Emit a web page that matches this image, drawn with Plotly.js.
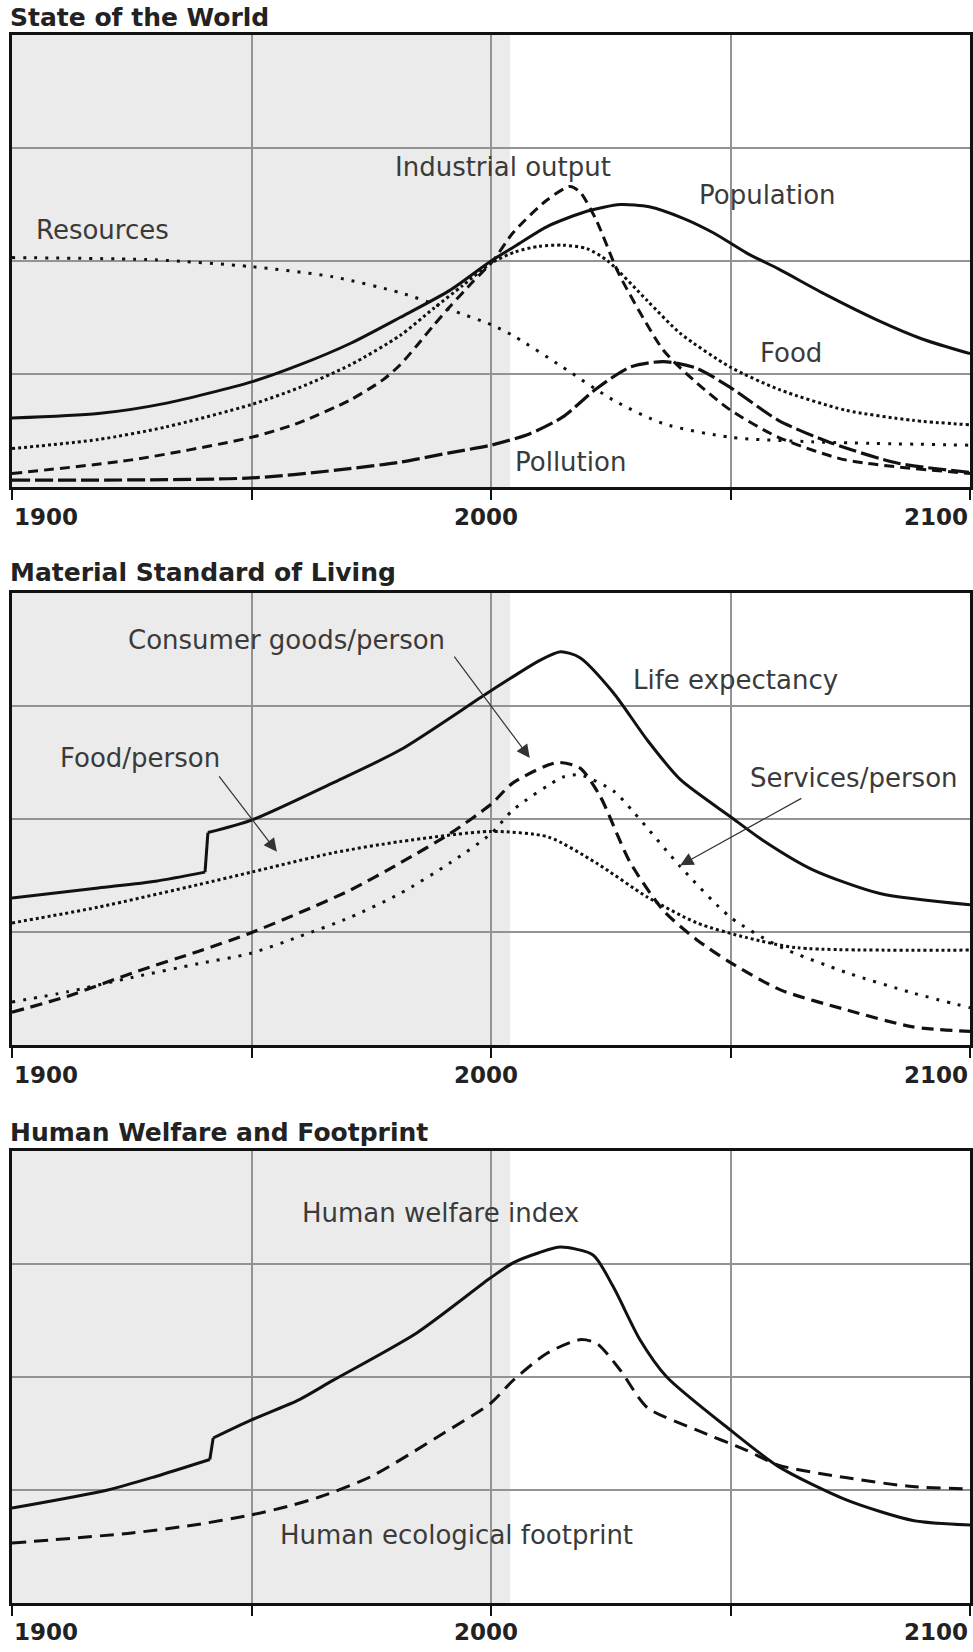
<!DOCTYPE html>
<html>
<head>
<meta charset="utf-8">
<script src="https://cdn.plot.ly/plotly-3.0.1.min.js"></script>
<style>html,body{margin:0;padding:0;background:#fff;}#chart{width:973px;height:1652px;}</style>
</head>
<body>
<div id="chart"></div>
<script>
// ---------- Panel 1: State of the World ----------
var popYears = [1900,1918,1932,1950,1960,1970.6,1981,1991.4,2000,2005,2012,2020,2027,2033,2040,2046.4,2053.4,2060,2070,2081,2090,2100];
var popVals  = [0.61,0.65,0.74,0.93,1.08,1.27,1.50,1.74,2.00,2.13,2.31,2.44,2.50,2.48,2.38,2.25,2.07,1.93,1.70,1.47,1.31,1.18];

var indYears = [1900,1925,1950,1960,1970.6,1977.5,1981,1984.5,1988,1991.5,1996.3,2000.4,2004.6,2011.7,2016.5,2018.6,2022,2025.5,2027,2036,2043,2050,2060,2074,2100];
var indVals  = [0.12,0.24,0.44,0.57,0.77,0.95,1.08,1.25,1.43,1.60,1.82,2.00,2.25,2.54,2.66,2.61,2.36,2.00,1.86,1.21,0.92,0.68,0.44,0.24,0.12];

var foodYears = [1900,1918,1932,1950,1960,1970.6,1981,1988,1994,2000,2005,2010,2015,2020,2024.4,2032.6,2039.5,2050,2060.3,2074,2088,2100];
var foodVals  = [0.34,0.42,0.53,0.73,0.88,1.08,1.34,1.58,1.78,1.98,2.08,2.13,2.14,2.11,2.00,1.65,1.36,1.06,0.86,0.68,0.59,0.55];

var resYears = [1900,1930,1950,1967,1981,1991.4,2000.4,2005,2015,2025.5,2036,2050,2067,2100];
var resVals  = [2.03,2.01,1.95,1.86,1.72,1.57,1.43,1.33,1.06,0.77,0.56,0.44,0.40,0.37];

var polYears = [1900,1950,1970,1981,1991,2000,2008,2015,2022,2029,2036,2043,2050,2060,2071,2085,2100];
var polVals  = [0.06,0.08,0.16,0.22,0.30,0.37,0.47,0.62,0.87,1.06,1.11,1.05,0.88,0.59,0.39,0.21,0.13];

// ---------- Panel 2: Material Standard of Living ----------
var lifeYears = [1900,1918,1930,1940.3,1940.9,1950,1967,1981,1998,2004.6,2010,2014.5,2018.5,2025.5,2032.6,2039.5,2050,2056.8,2067.2,2081.2,2100];
var lifeVals  = [1.30,1.39,1.45,1.53,1.88,1.99,2.32,2.61,3.08,3.26,3.40,3.48,3.43,3.12,2.70,2.35,2.02,1.81,1.55,1.34,1.24];
var lifeStep = 3; // index where the jump starts

var foodPYears = [1900,1918,1939,1950,1967,1981,2000,2012,2022,2032.6,2043,2053.4,2064,2100];
var foodPVals  = [1.08,1.22,1.42,1.53,1.70,1.80,1.89,1.84,1.61,1.31,1.08,0.95,0.86,0.84];

var goodsYears = [1900,1911.5,1925.3,1939,1949.7,1960,1970.6,1981,1991.4,2000,2004.6,2013.8,2018.6,2022.8,2029,2036,2043,2050,2060.3,2074.3,2088.1,2100];
var goodsVals  = [0.29,0.43,0.64,0.83,0.99,1.17,1.37,1.61,1.87,2.13,2.32,2.50,2.45,2.20,1.62,1.19,0.93,0.73,0.49,0.31,0.16,0.12];

var servYears = [1900,1911.5,1925.3,1939,1949.7,1960,1970.6,1981,1991.4,2000,2004.6,2015,2018.6,2025.5,2030,2039.5,2050,2060.3,2074.3,2088.1,2100];
var servVals  = [0.38,0.47,0.60,0.72,0.81,0.96,1.13,1.34,1.61,1.87,2.08,2.37,2.39,2.25,2.05,1.58,1.13,0.87,0.64,0.46,0.33];

// ---------- Panel 3: Human Welfare and Footprint ----------
var welfYears = [1900,1920,1930,1941.3,1942,1950,1960,1967,1984.5,2000,2004.6,2010,2014.5,2021.3,2025.5,2031.1,2036.7,2050,2060.3,2074.3,2088.1,2100];
var welfVals  = [0.84,1.00,1.12,1.27,1.46,1.62,1.80,1.97,2.39,2.88,3.01,3.10,3.15,3.08,2.80,2.33,2.00,1.53,1.20,0.91,0.73,0.69];
var welfStep = 3;

var footYears = [1900,1925,1938,1950,1958,1965,1975,1990,2000,2004.6,2011.7,2018.5,2022,2027,2032.6,2043,2053.4,2060,2074,2088,2100];
var footVals  = [0.53,0.62,0.69,0.78,0.86,0.95,1.12,1.50,1.77,1.97,2.21,2.33,2.30,2.06,1.73,1.53,1.35,1.22,1.11,1.03,1.01];

// ---------- Text ----------
var panelTitles = ["State of the World", "Material Standard of Living", "Human Welfare and Footprint"];
var tickLabels = ["1900", "2000", "2100"];
var tickYears = [1900, 2000, 2100];

var BLACK = '#111';
function tr(x, y, xa, ya, dash, w, shape) {
  return {x: x, y: y, xaxis: xa, yaxis: ya, type: 'scatter', mode: 'lines', hoverinfo: 'skip',
    line: {color: BLACK, width: w || 3, dash: dash || 'solid', shape: shape || 'spline', smoothing: 0.7}};
}
function stepped(xs, ys, k, xa, ya) {
  return [
    tr(xs.slice(0, k + 1), ys.slice(0, k + 1), xa, ya, 'solid', 3, 'spline'),
    tr(xs.slice(k, k + 2), ys.slice(k, k + 2), xa, ya, 'solid', 3, 'linear'),
    tr(xs.slice(k + 1), ys.slice(k + 1), xa, ya, 'solid', 3, 'spline')
  ];
}

var data = [
  tr(resYears, resVals, 'x', 'y', '3px,8px', 3),
  tr(foodYears, foodVals, 'x', 'y', '3px,3px', 3),
  tr(polYears, polVals, 'x', 'y', '18px,5px', 3.2),
  tr(indYears, indVals, 'x', 'y', '10px,6px', 3),
  tr(popYears, popVals, 'x', 'y', 'solid', 3),

  tr(foodPYears, foodPVals, 'x2', 'y2', '3px,3px', 3),
  tr(servYears, servVals, 'x2', 'y2', '3px,8px', 3),
  tr(goodsYears, goodsVals, 'x2', 'y2', '12px,7px', 3.2)
].concat(stepped(lifeYears, lifeVals, lifeStep, 'x2', 'y2'))
 .concat([tr(footYears, footVals, 'x3', 'y3', '14px,8px', 3)])
 .concat(stepped(welfYears, welfVals, welfStep, 'x3', 'y3'));

var H = 1652;
var panels = [{top: 35, bottom: 487}, {top: 593, bottom: 1045}, {top: 1151, bottom: 1603}];

function xaxis(anchor) {
  return {range: [1900, 2100], anchor: anchor, tickmode: 'linear', tick0: 1900, dtick: 50,
    showgrid: true, gridcolor: '#939393', gridwidth: 2, zeroline: false,
    ticks: 'outside', ticklen: 10, tickwidth: 2, tickcolor: '#111',
    showticklabels: false, showline: true, linecolor: '#111', linewidth: 3, mirror: true, fixedrange: true};
}
function yaxis(anchor, p) {
  return {range: [0, 4], anchor: anchor, domain: [1 - p.bottom / H, 1 - p.top / H],
    tickmode: 'linear', tick0: 0, dtick: 1, showgrid: true, gridcolor: '#939393', gridwidth: 2,
    zeroline: false, ticks: '', showticklabels: false, showline: true, linecolor: '#111',
    linewidth: 3, mirror: true, fixedrange: true};
}

var labelFont = {family: 'DejaVu Sans', size: 26, color: '#3a3a3a'};
function lab(text, x, y, xr, yr) {
  return {text: text, x: x, y: y, xref: xr, yref: yr, showarrow: false, font: labelFont,
    xanchor: 'center', yanchor: 'middle'};
}
function arrow(x, y, ax, ay, xr, yr) {
  return {text: '', x: x, y: y, ax: ax, ay: ay, xref: xr, yref: yr, axref: xr, ayref: yr,
    showarrow: true, arrowhead: 2, arrowsize: 2.2, arrowwidth: 1.2, arrowcolor: '#333', standoff: 0};
}

var annotations = [
  lab('Industrial output', 2002.5, 2.83, 'x', 'y'),
  lab('Population', 2057.8, 2.58, 'x', 'y'),
  lab('Resources', 1918.8, 2.27, 'x', 'y'),
  lab('Food', 2062.6, 1.19, 'x', 'y'),
  lab('Pollution', 2016.7, 0.22, 'x', 'y'),

  lab('Consumer goods/person', 1957.4, 3.58, 'x2', 'y2'),
  lab('Life expectancy', 2051.1, 3.23, 'x2', 'y2'),
  lab('Food/person', 1926.7, 2.54, 'x2', 'y2'),
  lab('Services/person', 2075.8, 2.36, 'x2', 'y2'),
  arrow(2008.1, 2.54, 1992.1, 3.45, 'x2', 'y2'),
  arrow(1955.3, 1.71, 1943.0, 2.39, 'x2', 'y2'),
  arrow(2039.5, 1.59, 2065.1, 2.19, 'x2', 'y2'),

  lab('Human welfare index', 1989.4, 3.45, 'x3', 'y3'),
  lab('Human ecological footprint', 1992.9, 0.60, 'x3', 'y3')
];

var titleY = [17, 572, 1132];
var tickY = [517, 1075, 1632];
panels.forEach(function (p, i) {
  annotations.push({text: '<b>' + panelTitles[i] + '</b>', xref: 'paper', yref: 'paper',
    x: -0.004, y: 1 - titleY[i] / H, xanchor: 'left', yanchor: 'middle', showarrow: false,
    font: {family: 'DejaVu Sans', size: 25, color: '#222'}});
  var xr = i === 0 ? 'x' : 'x' + (i + 1);
  tickYears.forEach(function (ty, k) {
    annotations.push({text: '<b>' + tickLabels[k] + '</b>', xref: xr, yref: 'paper',
      x: ty === 2000 ? 1999 : ty, y: 1 - tickY[i] / H,
      xanchor: k === 0 ? 'left' : (k === 2 ? 'right' : 'center'), yanchor: 'middle', showarrow: false,
      font: {family: 'DejaVu Sans', size: 23, color: '#222'}});
  });
});

var shapes = [];
['x', 'x2', 'x3'].forEach(function (xr, i) {
  var yr = i === 0 ? 'y' : 'y' + (i + 1);
  shapes.push({type: 'rect', xref: xr, yref: yr, x0: 1900, x1: 2004, y0: 0, y1: 4,
    fillcolor: '#ebebeb', line: {width: 0}, layer: 'below'});
});

var layout = {
  width: 973, height: 1652, margin: {l: 12, r: 3, t: 0, b: 0},
  paper_bgcolor: '#fff', plot_bgcolor: '#fff', showlegend: false,
  xaxis: xaxis('y'), xaxis2: xaxis('y2'), xaxis3: xaxis('y3'),
  yaxis: yaxis('x', panels[0]), yaxis2: yaxis('x2', panels[1]), yaxis3: yaxis('x3', panels[2]),
  annotations: annotations, shapes: shapes
};

Plotly.newPlot('chart', data, layout, {displayModeBar: false, staticPlot: true});
</script>
</body>
</html>
